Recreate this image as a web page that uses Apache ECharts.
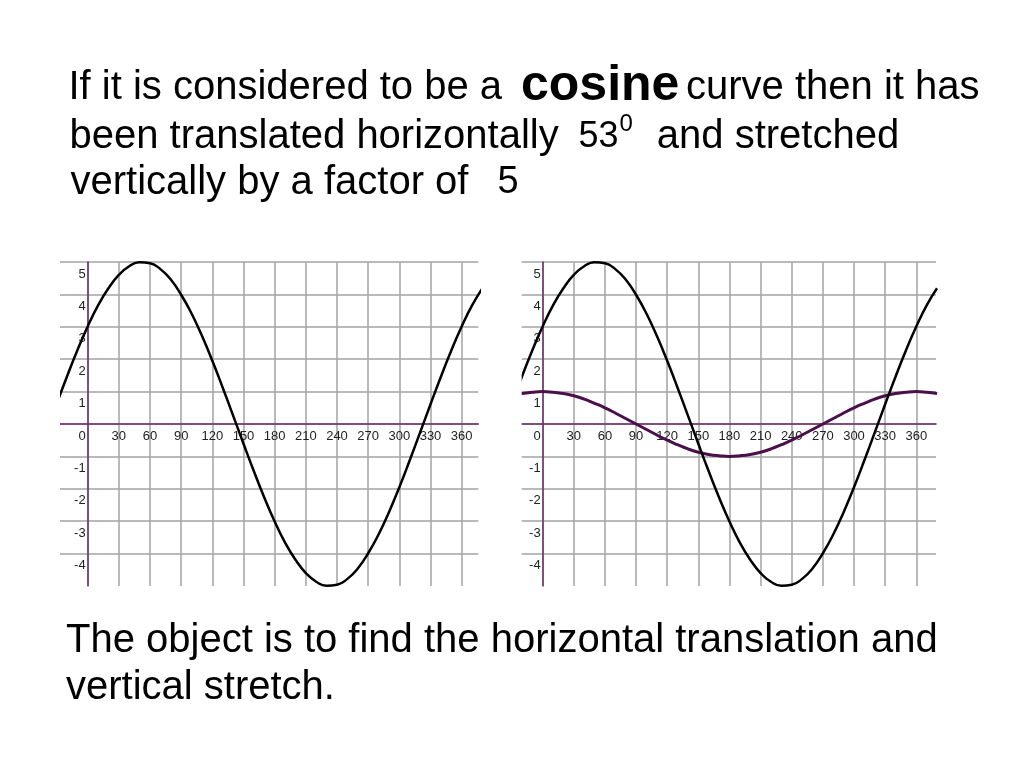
<!DOCTYPE html>
<html lang="en">
  <head>
    <meta charset="UTF-8" />
    <title>Translated cosine curve</title>
    <script src="https://cdn.jsdelivr.net/npm/echarts@6.0.0/dist/echarts.min.js"></script>
    <style>
      html, body { margin: 0; padding: 0; background: #fff; }
      #main { width: 1024px; height: 768px; }
    </style>
  </head>
  <body>
    <div id="main"></div>

    <script>
      // angles (degrees) the curves were read at
      const angles = [-30, -20, -10, 0, 10, 20, 30, 40, 50, 60, 70, 80, 90, 100, 110, 120, 130, 140,
        150, 160, 170, 180, 190, 200, 210, 220, 230, 240, 250, 260, 270, 280, 290, 300, 310, 320,
        330, 340, 350, 360, 370, 380];

      // black curve
      const givenCurve = [0.61, 1.46, 2.27, 3.01, 3.66, 4.19, 4.60, 4.87, 4.99, 4.96, 4.78, 4.46,
        3.99, 3.41, 2.72, 1.95, 1.12, 0.26, -0.61, -1.46, -2.27, -3.01, -3.66, -4.19, -4.60, -4.87,
        -4.99, -4.96, -4.78, -4.46, -3.99, -3.41, -2.72, -1.95, -1.12, -0.26, 0.61, 1.46, 2.27,
        3.01, 3.66, 4.19];

      // purple curve on the right graph
      const basicCosine = [0.87, 0.94, 0.98, 1.00, 0.98, 0.94, 0.87, 0.77, 0.64, 0.50, 0.34, 0.17,
        0.00, -0.17, -0.34, -0.50, -0.64, -0.77, -0.87, -0.94, -0.98, -1.00, -0.98, -0.94, -0.87,
        -0.77, -0.64, -0.50, -0.34, -0.17, 0.00, 0.17, 0.34, 0.50, 0.64, 0.77, 0.87, 0.94, 0.98,
        1.00, 0.98, 0.94];

      const xTickStep = 30;
      const yTickStep = 1;

      const FONT = '"Liberation Sans", Arial, Helvetica, sans-serif';
      const GRID_COLOR = '#a3a3a3';
      const AXIS_COLOR = '#6b2c6b';

      // grid boxes; x runs from -30 so the 30 degree lines line up, the strip left of
      // where the reference graphs start gets covered further down
      const grids = [
        { left: 56.5, top: 262, width: 421.8, height: 324, xMax: 376 },
        { left: 511.5, top: 262, width: 424.5, height: 324, xMax: 379 },
      ];

      function pairs(ys) {
        return angles.map((a, i) => [a, ys[i]]);
      }

      function xAxisFor(i) {
        const g = grids[i];
        return {
          type: 'value',
          gridIndex: i,
          min: -30,
          max: g.xMax,
          interval: xTickStep,
          position: 'bottom',
          offset: -g.height / 2, // put the axis on y = 0
          axisLine: { onZero: false, lineStyle: { color: AXIS_COLOR, width: 1.5 } },
          axisTick: { show: false },
          axisLabel: {
            showMinLabel: false,
            showMaxLabel: false,
            margin: 6,
            color: '#222',
            fontSize: 13,
            fontFamily: FONT,
            formatter: (v) => (v === 0 ? '' : String(v)),
          },
          splitLine: { show: true, showMaxLine: false, lineStyle: { color: GRID_COLOR, width: 1.5 } },
        };
      }

      function yAxisFor(i) {
        const g = grids[i];
        return {
          type: 'value',
          gridIndex: i,
          min: -5,
          max: 5,
          interval: yTickStep,
          position: 'left',
          offset: -(30 * g.width) / (g.xMax + 30), // put the axis on x = 0
          axisLine: { show: true, onZero: false, lineStyle: { color: AXIS_COLOR, width: 1.5 } },
          axisTick: { show: false },
          axisLabel: {
            showMinLabel: false,
            margin: 2,
            color: '#222',
            fontSize: 13,
            fontFamily: FONT,
            verticalAlign: 'top',
            padding: [5.5, 0, 0, 0],
          },
          splitLine: { show: true, showMinLine: false, lineStyle: { color: GRID_COLOR, width: 1.5 } },
        };
      }

      function label(x, y, text, size, weight) {
        return {
          type: 'text',
          x: x,
          y: y,
          style: {
            text: text,
            font: (weight || 'normal') + ' ' + size + 'px ' + FONT,
            fill: '#000',
            textVerticalAlign: 'middle',
            verticalAlign: 'middle',
          },
        };
      }

      const options = {
        animation: false,
        backgroundColor: '#fff',
        grid: grids.map((g) => ({ left: g.left, top: g.top, width: g.width, height: g.height })),
        xAxis: [xAxisFor(0), xAxisFor(1)],
        yAxis: [yAxisFor(0), yAxisFor(1)],
        series: [
          {
            type: 'line',
            xAxisIndex: 0,
            yAxisIndex: 0,
            data: pairs(givenCurve),
            smooth: true,
            showSymbol: false,
            lineStyle: { color: '#000', width: 2.5 },
          },
          {
            type: 'line',
            xAxisIndex: 1,
            yAxisIndex: 1,
            data: pairs(basicCosine),
            smooth: true,
            showSymbol: false,
            lineStyle: { color: '#4b0f4b', width: 3 },
          },
          {
            type: 'line',
            xAxisIndex: 1,
            yAxisIndex: 1,
            data: pairs(givenCurve),
            smooth: true,
            showSymbol: false,
            lineStyle: { color: '#000', width: 2.5 },
          },
        ],
        graphic: [
          { type: 'rect', z: 100, shape: { x: 40, y: 250, width: 20, height: 345 }, style: { fill: '#fff' } },
          { type: 'rect', z: 100, shape: { x: 495, y: 250, width: 26.7, height: 345 }, style: { fill: '#fff' } },

          label(68.5, 88.1, 'If it is considered to be a', 40),
          label(521, 86.3, 'cosine', 50, 'bold'),
          label(686, 88.1, 'curve then it has', 40),
          label(69.5, 136.6, 'been translated horizontally', 40),
          label(578.5, 137.5, '53', 36),
          label(619.5, 124.4, '0', 24),
          label(656.8, 136.6, 'and stretched', 40),
          label(70.5, 182.6, 'vertically by a factor of', 40),
          label(497.5, 183, '5', 38),
          label(66, 640.6, 'The object is to find the horizontal translation and', 40),
          label(66, 687.6, 'vertical stretch.', 40),
        ],
      };

      const myChart = echarts.init(document.getElementById('main'));
      myChart.setOption(options);
    </script>
  </body>
</html>
